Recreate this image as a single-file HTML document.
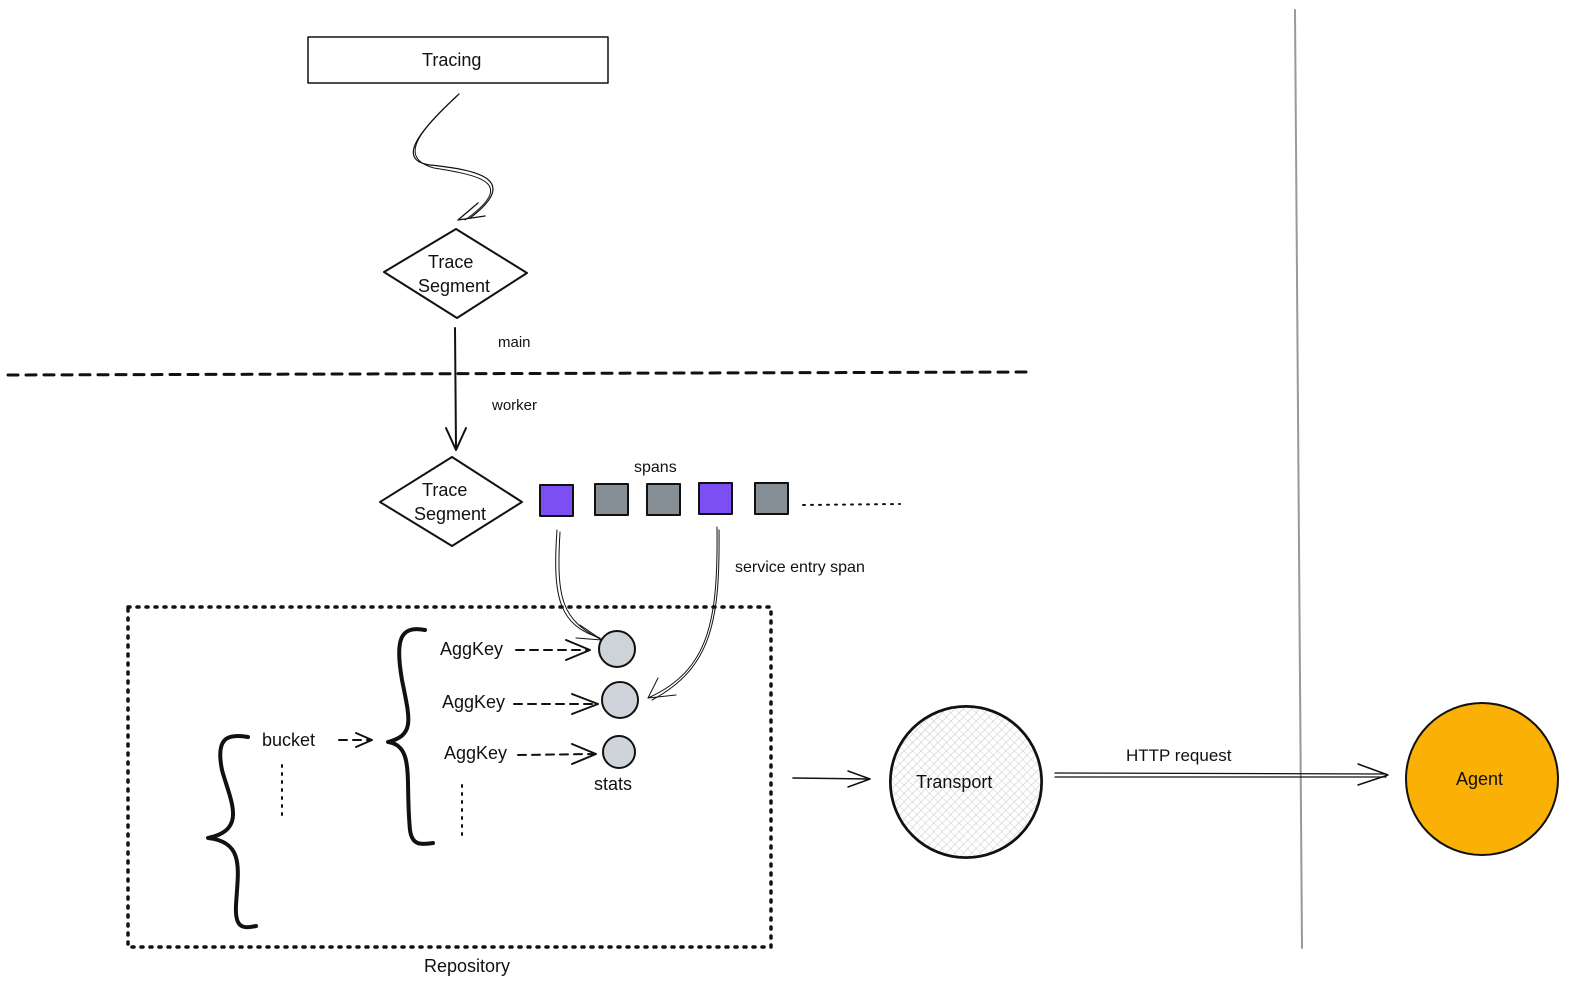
<!DOCTYPE html>
<html><head><meta charset="utf-8"><style>html,body{margin:0;padding:0;background:#fff}svg{display:block}text{font-family:"Liberation Sans",sans-serif;fill:#111}</style></head>
<body>
<svg width="1580" height="995" viewBox="0 0 1580 995" xmlns="http://www.w3.org/2000/svg">
<defs>
<pattern id="hatch" width="6" height="6" patternUnits="userSpaceOnUse" patternTransform="rotate(45)">
<line x1="0" y1="0" x2="0" y2="6" stroke="#c8c9cc" stroke-width="1.2"/>
</pattern>
<pattern id="hatch2" width="6" height="6" patternUnits="userSpaceOnUse" patternTransform="rotate(-45)">
<line x1="0" y1="0" x2="0" y2="6" stroke="#d2d3d6" stroke-width="1"/>
</pattern>
</defs>
<g fill="none" stroke="#111" stroke-linecap="round" stroke-linejoin="round">
<!-- Tracing box -->
<rect x="308" y="37" width="300" height="46" stroke-width="1.5"/>
<!-- squiggle arrow -->
<path d="M459 94 C420 130 395 160 430 165 C480 170 520 180 470 218" stroke-width="1.2"/>
<path d="M456 97 C418 132 398 158 434 168 C485 176 515 184 465 220" stroke-width="1"/>
<path d="M458 220 L478 203 M458 220 L485 216" stroke-width="1.3"/>
<!-- diamond 1 -->
<path d="M456 229 L527 273 L457 318 L384 272 Z" stroke-width="2"/>
<!-- arrow down -->
<path d="M455 328 L456 448" stroke-width="2"/>
<path d="M446 428 L456 450 L466 428" stroke-width="2"/>
<!-- dashed line -->
<path d="M8 375 L1032 372" stroke-width="3" stroke-dasharray="10 8"/>
<!-- diamond 2 -->
<path d="M452 457 L522 502 L452 546 L380 502 Z" stroke-width="2"/>
<!-- spans -->
<rect x="540" y="485" width="33" height="31" fill="#7b4ff2" stroke-width="2"/>
<rect x="595" y="484" width="33" height="31" fill="#868e96" stroke-width="2"/>
<rect x="647" y="484" width="33" height="31" fill="#868e96" stroke-width="2"/>
<rect x="699" y="483" width="33" height="31" fill="#7b4ff2" stroke-width="2"/>
<rect x="755" y="483" width="33" height="31" fill="#868e96" stroke-width="2"/>
<path d="M803 505 L900 504" stroke-width="2" stroke-dasharray="2 6"/>
<!-- vertical gray line -->
<path d="M1295 10 L1302 948" stroke="#999" stroke-width="2"/>
<!-- repository dotted box -->
<rect x="128" y="607" width="643" height="340" stroke-width="3.5" stroke-dasharray="2 7"/>
<!-- span arrows -->
<path d="M557 530 C552 600 560 625 600 638" stroke-width="1"/>
<path d="M560 532 C556 600 562 620 602 640" stroke-width="1"/>
<path d="M580 625 L602 640 L576 638" stroke-width="1"/>
<path d="M717 527 C718 620 710 670 648 698" stroke-width="1"/>
<path d="M719 530 C720 620 712 668 652 700" stroke-width="1"/>
<path d="M658 678 L648 698 L676 695" stroke-width="1"/>
<!-- stats circles -->
<circle cx="617" cy="649" r="18" fill="#ced4da" stroke-width="2"/>
<circle cx="620" cy="700" r="18" fill="#ced4da" stroke-width="2"/>
<circle cx="619" cy="752" r="16" fill="#ced4da" stroke-width="2"/>
<!-- AggKey arrows -->
<path d="M516 650 L588 650" stroke-width="2" stroke-dasharray="8 6"/>
<path d="M566 640 L590 650 L566 660" stroke-width="2"/>
<path d="M514 704 L596 704" stroke-width="2" stroke-dasharray="8 6"/>
<path d="M572 694 L598 704 L572 714" stroke-width="2"/>
<path d="M518 755 L594 754" stroke-width="2" stroke-dasharray="8 6"/>
<path d="M572 744 L596 754 L572 764" stroke-width="2"/>
<path d="M339 740 L370 740" stroke-width="2" stroke-dasharray="8 6"/>
<path d="M356 733 L372 740 L356 747" stroke-width="2"/>
<!-- dotted verticals -->
<path d="M282 765 L282 815" stroke-width="2" stroke-dasharray="2 6"/>
<path d="M462 785 L462 835" stroke-width="2" stroke-dasharray="2 6"/>
<!-- braces -->
<path d="M425 630 C400 625 395 640 402 680 C410 720 415 735 388 742 C415 746 405 780 410 830 C412 845 420 845 433 843" stroke-width="4"/>
<path d="M248 737 C225 733 216 740 222 770 C230 800 248 830 208 838 C245 842 238 870 236 905 C235 925 240 930 256 926" stroke-width="4"/>
<!-- arrow to transport -->
<path d="M793 778 L870 779" stroke-width="1.5"/>
<path d="M848 771 L870 779 L848 787" stroke-width="1.5"/>
<!-- transport -->
<circle cx="966" cy="782" r="76" fill="url(#hatch)" stroke-width="2"/>
<circle cx="966" cy="782" r="75" fill="url(#hatch2)" stroke-width="1.5"/>
<!-- HTTP -->
<path d="M1055 773 L1386 774 M1055 777 L1386 777" stroke-width="1.3"/>
<path d="M1358 764 L1388 775 L1358 785" stroke-width="1.5"/>
<!-- agent -->
<circle cx="1482" cy="779" r="76" fill="#fab005" stroke-width="2"/>
</g>
<g font-size="18">
<text x="422" y="66">Tracing</text>
<text x="428" y="268">Trace</text>
<text x="418" y="292">Segment</text>
<text x="498" y="347" font-size="15">main</text>
<text x="492" y="410" font-size="15">worker</text>
<text x="422" y="496">Trace</text>
<text x="414" y="520">Segment</text>
<text x="634" y="472" font-size="16">spans</text>
<text x="735" y="572" font-size="16">service entry span</text>
<text x="440" y="655">AggKey</text>
<text x="442" y="708">AggKey</text>
<text x="444" y="759">AggKey</text>
<text x="262" y="746">bucket</text>
<text x="594" y="790">stats</text>
<text x="916" y="788">Transport</text>
<text x="1126" y="761" font-size="17">HTTP request</text>
<text x="1456" y="785">Agent</text>
<text x="424" y="972">Repository</text>
</g>
</svg>
</body></html>
